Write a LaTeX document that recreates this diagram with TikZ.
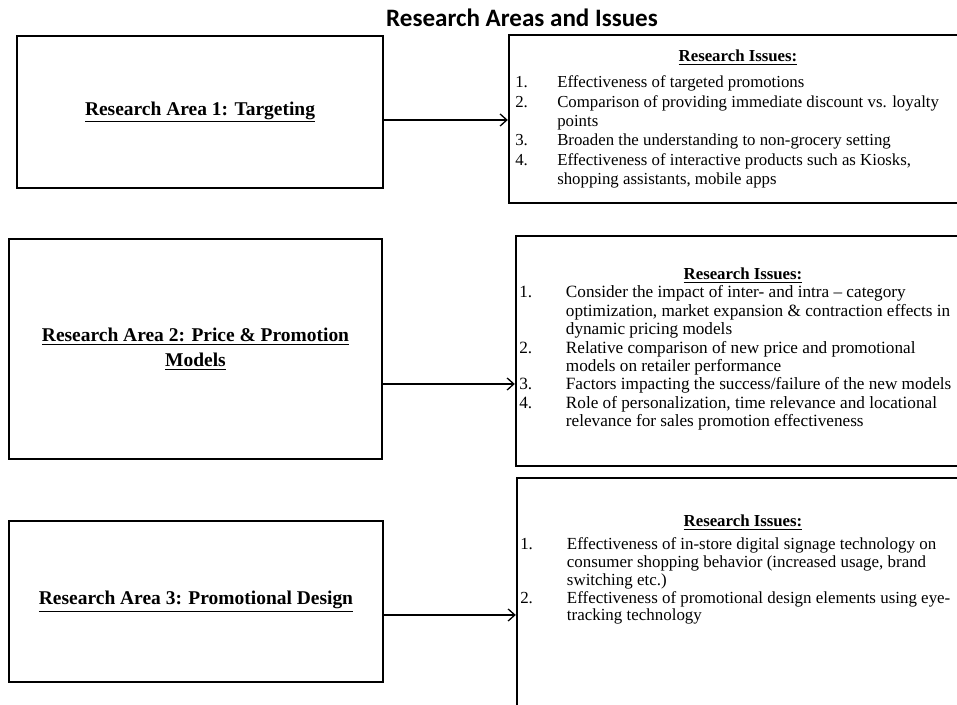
\documentclass[tikz,border=0pt]{standalone}
\usepackage{fontspec}
\setmainfont{Liberation Serif}
\newfontfamily\titlefont{Carlito}
\usetikzlibrary{arrows.meta}
\begin{document}
\begin{tikzpicture}[x=0.75pt,y=-0.75pt,
  lbox/.style={draw, line width=1.8pt, inner sep=0pt, align=center,
    font=\fontsize{14.6}{18.75}\selectfont\bfseries},
  rbox/.style={draw, line width=1.8pt, inner sep=0pt},
  head/.style={font=\fontsize{12.6}{14}\selectfont\bfseries, inner sep=0pt, anchor=base},
  items/.style={inner sep=0pt, anchor=base west, align=left},
  arr/.style={line width=1pt, -{Straight Barb[length=5pt,width=9pt]}}]
\useasboundingbox (0,0) rectangle (957,705);
\begin{scope}
\clip (0,0) rectangle (957,705);

\node[font=\titlefont\fontsize{18.8}{22}\selectfont\bfseries, inner sep=0pt, anchor=base] (title) at (522,27) {Research Areas and Issues};

% left boxes
\node[lbox, minimum width=274.5pt, minimum height=114pt] (l1) at (200,112) {\underline{Research Area 1: Targeting}};
\node[lbox, minimum width=279.75pt, minimum height=165pt] (l2) at (195.5,349) {\underline{Research Area 2: Price \& Promotion}\\\underline{Models}};
\node[lbox, minimum width=280.5pt, minimum height=120.75pt] (l3) at (196,601.5) {\underline{Research Area 3: Promotional Design}};

% right boxes
\node[rbox, minimum width=343.5pt, minimum height=126pt] (r1) at (738,119) {};
\node[rbox, minimum width=340.5pt, minimum height=172.5pt] (r2) at (743,351) {};
\node[rbox, minimum width=339.75pt, minimum height=211.5pt] (r3) at (743.5,619) {};

% right box texts
\node[head] (h1) at (738,62) {\underline{Research Issues:}};
\node[items, font=\fontsize{12.6}{14.5}\selectfont] (t1) at (515,88) {\begin{tabular}[t]{@{}p{31.5pt}@{}l@{}}
1. & Effectiveness of targeted promotions\\
2. & Comparison of providing immediate discount vs. loyalty\\
   & points\\
3. & Broaden the understanding to non-grocery setting\\
4. & Effectiveness of interactive products such as Kiosks,\\
   & shopping assistants, mobile apps
\end{tabular}};

\node[head] (h2) at (743,280) {\underline{Research Issues:}};
\node[items, font=\fontsize{12.9}{13.8}\selectfont] (t2) at (519,298) {\begin{tabular}[t]{@{}p{35pt}@{}l@{}}
1. & Consider the impact of inter- and intra -- category\\
   & optimization, market expansion \& contraction effects in\\
   & dynamic pricing models\\
2. & Relative comparison of new price and promotional\\
   & models on retailer performance\\
3. & Factors impacting the success/failure of the new models\\
4. & Role of personalization, time relevance and locational\\
   & relevance for sales promotion effectiveness
\end{tabular}};

\node[head] (h3) at (743,527) {\underline{Research Issues:}};
\node[items, font=\fontsize{12.7}{13.3}\selectfont] (t3) at (520,550) {\begin{tabular}[t]{@{}p{35pt}@{}l@{}}
1. & Effectiveness of in-store digital signage technology on\\
   & consumer shopping behavior (increased usage, brand\\
   & switching etc.)\\
2. & Effectiveness of promotional design elements using eye-\\
   & tracking technology
\end{tabular}};

% arrows
\path (r1.west |- 0,120) coordinate (a1);
\path (r2.west |- 0,384) coordinate (a2);
\path (r3.west |- 0,615) coordinate (a3);
\draw[arr] (l1.east |- a1) -- (a1);
\draw[arr] (l2.east |- a2) -- (a2);
\draw[arr] (l3.east |- a3) -- (a3);
\end{scope}
\end{tikzpicture}
\end{document}
